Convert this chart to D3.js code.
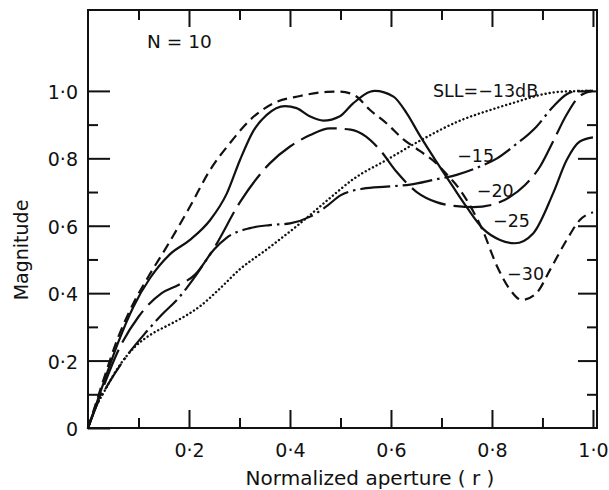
<!DOCTYPE html>
<html>
<head>
  <meta charset="utf-8">
  <script src="https://cdn.jsdelivr.net/npm/d3@7"></script>
  <style>
    body { margin: 0; background: #fff; }
    text { font-family: "DejaVu Sans", sans-serif; fill: #111; }
  </style>
</head>
<body>
  <svg width="609" height="490" id="mainsvg"></svg>
  <script>
    // curves: [r, magnitude]
    const sll13 = [[0,0],[0.012,0.05],[0.034,0.113],[0.06,0.18],[0.093,0.241],[0.125,0.278],[0.159,0.305],[0.19,0.33],
      [0.225,0.365],[0.26,0.412],[0.3,0.47],[0.354,0.53],[0.42,0.607],[0.479,0.682],[0.525,0.738],[0.591,0.795],
      [0.657,0.852],[0.737,0.912],[0.8,0.945],[0.85,0.968],[0.895,0.988],[0.94,0.998],[1.0,1.0]];
    const sll15 = [[0,0],[0.015,0.06],[0.04,0.13],[0.07,0.2],[0.116,0.286],[0.146,0.336],[0.179,0.385],[0.212,0.449],
      [0.25,0.53],[0.275,0.565],[0.321,0.593],[0.36,0.602],[0.40,0.607],[0.44,0.627],[0.47,0.655],[0.5,0.69],
      [0.545,0.71],[0.591,0.716],[0.638,0.722],[0.684,0.736],[0.73,0.751],[0.775,0.775],[0.81,0.8],[0.842,0.835],
      [0.888,0.894],[0.921,0.953],[0.948,0.99],[0.97,1.0],[1.0,1.0]];
    const sll20 = [[0,0],[0.015,0.06],[0.03,0.12],[0.06,0.23],[0.1,0.33],[0.146,0.40],[0.18,0.425],[0.212,0.455],
      [0.248,0.53],[0.301,0.67],[0.36,0.785],[0.4,0.835],[0.44,0.869],[0.479,0.889],[0.52,0.885],[0.55,0.865],
      [0.578,0.825],[0.611,0.76],[0.651,0.7],[0.69,0.67],[0.73,0.658],[0.763,0.655],[0.8,0.662],[0.835,0.685],
      [0.865,0.72],[0.895,0.775],[0.921,0.85],[0.948,0.93],[0.974,0.985],[1.0,1.0]];
    const sll25 = [[0,0],[0.015,0.065],[0.03,0.13],[0.06,0.255],[0.09,0.36],[0.123,0.445],[0.162,0.515],[0.202,0.558],
      [0.242,0.617],[0.275,0.696],[0.301,0.795],[0.327,0.88],[0.354,0.929],[0.39,0.955],[0.413,0.949],[0.44,0.924],
      [0.466,0.912],[0.499,0.925],[0.525,0.963],[0.568,1.0],[0.605,0.983],[0.631,0.934],[0.657,0.868],[0.69,0.79],
      [0.723,0.715],[0.75,0.655],[0.783,0.59],[0.816,0.558],[0.845,0.548],[0.882,0.578],[0.921,0.696],[0.948,0.795],
      [0.974,0.85],[1.0,0.862]];
    const sll30 = [[0,0],[0.015,0.07],[0.03,0.14],[0.06,0.27],[0.09,0.37],[0.12,0.45],[0.156,0.538],[0.202,0.657],
      [0.242,0.766],[0.281,0.845],[0.321,0.914],[0.367,0.963],[0.42,0.985],[0.473,0.997],[0.5,0.998],[0.53,0.985],
      [0.558,0.944],[0.591,0.904],[0.624,0.857],[0.657,0.822],[0.69,0.785],[0.712,0.75],[0.737,0.706],[0.762,0.645],
      [0.782,0.585],[0.81,0.48],[0.836,0.41],[0.859,0.38],[0.888,0.40],[0.915,0.469],[0.948,0.558],[0.974,0.617],[1.0,0.64]];

    const seriesNames = ['SLL=\u221213dB', '\u221215', '\u221220', '\u221225', '\u221230'];
    const seriesData = [sll13, sll15, sll20, sll25, sll30];
    const dashes = ['0.1,4', '30,5,2.5,5', '38,8', null, '10,6'];
    // where each curve label sits, in data units [r, magnitude]
    const labelAt = [[0.683, 0.982], [0.731, 0.789], [0.770, 0.685], [0.802, 0.596], [0.83, 0.439]];

    const xMajor = [0.2, 0.4, 0.6, 0.8, 1.0];
    const xMinor = [0.1, 0.3, 0.5, 0.7, 0.9];
    const yMajor = [0, 0.2, 0.4, 0.6, 0.8, 1.0];
    const yMinor = [0.1, 0.3, 0.5, 0.7, 0.9];
    const fmt = d => d === 0 ? '0' : d3.format('.1f')(d).replace('.', '\u00b7');

    const svg = d3.select('#mainsvg');
    const xScale = d3.scaleLinear().domain([0, 1.008]).range([88, 597]);
    const yScale = d3.scaleLinear().domain([0, 1.24]).range([428, 10]);

    const tickStyle = g => {
      g.select('.domain').remove();
      g.selectAll('line').attr('stroke', '#111').attr('stroke-width', 2);
    };

    // bottom
    svg.append('g').attr('transform', 'translate(0,428)')
      .call(d3.axisBottom(xScale).tickValues(xMajor).tickSize(-18).tickPadding(16).tickFormat(fmt))
      .call(tickStyle)
      .selectAll('text').attr('font-size', 19).attr('font-family', 'DejaVu Sans').attr('fill', '#111');
    svg.append('g').attr('transform', 'translate(0,428)')
      .call(d3.axisBottom(xScale).tickValues(xMinor).tickSize(-10).tickFormat(''))
      .call(tickStyle);
    // top
    svg.append('g').attr('transform', 'translate(0,10)')
      .call(d3.axisTop(xScale).tickValues(xMajor).tickSize(-17).tickFormat(''))
      .call(tickStyle);
    svg.append('g').attr('transform', 'translate(0,10)')
      .call(d3.axisTop(xScale).tickValues(xMinor).tickSize(-10).tickFormat(''))
      .call(tickStyle);
    // left
    svg.append('g').attr('transform', 'translate(88,0)')
      .call(d3.axisLeft(yScale).tickValues(yMajor).tickSize(-22).tickPadding(10).tickFormat(fmt))
      .call(tickStyle)
      .selectAll('text').attr('font-size', 19).attr('font-family', 'DejaVu Sans').attr('fill', '#111').attr('dy', '0.4em');
    svg.append('g').attr('transform', 'translate(88,0)')
      .call(d3.axisLeft(yScale).tickValues(yMinor).tickSize(-10).tickFormat(''))
      .call(tickStyle);
    // right
    svg.append('g').attr('transform', 'translate(597,0)')
      .call(d3.axisRight(yScale).tickValues([0.2, 0.4, 0.6, 0.8, 1.0]).tickSize(-19).tickFormat(''))
      .call(tickStyle);
    svg.append('g').attr('transform', 'translate(597,0)')
      .call(d3.axisRight(yScale).tickValues(yMinor).tickSize(-10).tickFormat(''))
      .call(tickStyle);

    // frame
    svg.append('rect')
      .attr('x', xScale(0)).attr('y', yScale(1.24))
      .attr('width', xScale(1.008) - xScale(0)).attr('height', yScale(0) - yScale(1.24))
      .attr('fill', 'none').attr('stroke', '#111').attr('stroke-width', 2);

    const line = d3.line()
      .x(d => xScale(d[0]))
      .y(d => yScale(d[1]))
      .curve(d3.curveMonotoneX);

    svg.append('g').selectAll('path').data(seriesData).join('path')
      .attr('d', line)
      .attr('fill', 'none')
      .attr('stroke', '#111')
      .attr('stroke-width', (d, i) => i === 0 ? 2.4 : 2.2)
      .attr('stroke-linecap', (d, i) => i === 0 ? 'round' : 'butt')
      .attr('stroke-dasharray', (d, i) => dashes[i]);

    svg.append('g').selectAll('text').data(seriesNames).join('text')
      .attr('x', (d, i) => xScale(labelAt[i][0]))
      .attr('y', (d, i) => yScale(labelAt[i][1]))
      .attr('font-size', 17.5)
      .text(d => d);

    svg.append('text').attr('x', xScale(0.117)).attr('y', yScale(1.128))
      .attr('font-size', 18.5).text('N = 10');

    svg.append('text').attr('x', 370).attr('y', 485)
      .attr('text-anchor', 'middle').attr('font-size', 20)
      .text('Normalized aperture ( r )');

    svg.append('text').attr('transform', 'translate(28,250) rotate(-90)')
      .attr('text-anchor', 'middle').attr('font-size', 19)
      .text('Magnitude');
  </script>
</body>
</html>
